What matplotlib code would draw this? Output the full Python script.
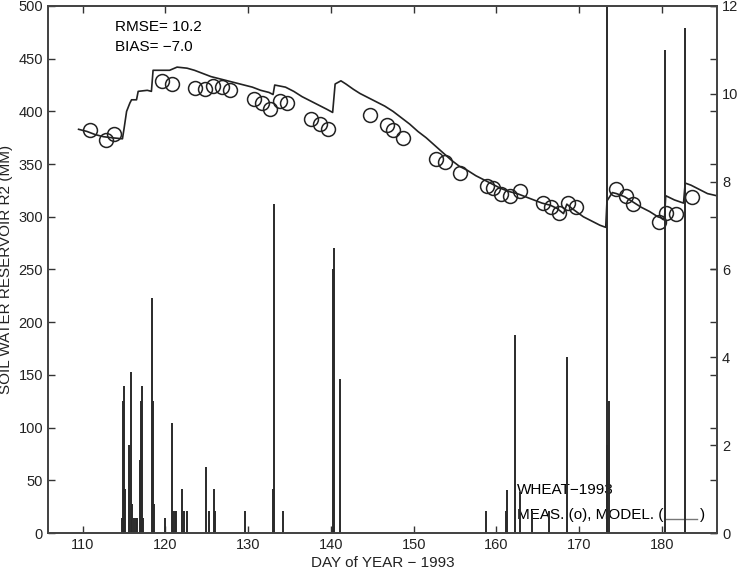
import matplotlib
matplotlib.use('Agg')
import matplotlib.pyplot as plt

plt.rcParams['font.family'] = ['Liberation Sans', 'DejaVu Sans']

# measured soil water (circles)
meas_day = [110.9, 112.8, 113.8, 119.6, 120.8, 123.6, 124.8, 125.7, 126.8, 127.8,
            130.7, 131.7, 132.6, 133.8, 134.7, 137.6, 138.7, 139.6, 144.7, 146.8,
            147.5, 148.7, 152.7, 153.8, 155.6, 158.8, 159.6, 160.5, 161.6, 162.8,
            165.6, 166.6, 167.5, 168.6, 169.6, 174.4, 175.6, 176.5, 179.6, 180.5,
            181.7, 183.6]
meas_val = [382, 373, 379, 429, 426, 422, 421, 424, 423, 420,
            412, 408, 402, 410, 408, 393, 388, 383, 397, 387,
            382, 375, 355, 352, 342, 329, 327, 322, 320, 324,
            313, 309, 304, 313, 309, 326, 320, 312, 295, 304,
            303, 319]

# model soil water (line)
mod_day = [109.5, 110.5, 111.5, 112.5, 113.5, 114.8, 115.0, 115.3, 115.7, 115.9,
           116.5, 116.7, 117.8, 118.3, 118.5, 120.5, 121.4, 122.6, 123.5, 124.5,
           125.5, 126.5, 127.5, 128.5, 129.5, 130.5, 131.5, 132.5, 133.0, 133.2,
           134.5, 135.5, 136.5, 137.5, 138.5, 139.5, 140.2, 140.5, 141.2, 141.8,
           142.7, 143.5, 144.5, 145.5, 146.5, 147.5, 148.5, 149.5, 150.5, 151.5,
           152.5, 153.5, 154.5, 155.5, 156.5, 157.5, 158.5, 159.5, 160.5, 161.5,
           162.5, 163.5, 164.5, 165.5, 166.5, 167.3, 168.1, 168.5, 169.1, 170.5,
           171.5, 172.5, 173.2, 173.35, 174.0, 174.5, 175.5, 176.5, 177.5, 178.5,
           179.5, 180.3, 180.45, 181.5, 182.6, 182.8, 183.5, 184.5, 185.5, 186.6]
mod_val = [383, 381, 378, 376, 375, 374, 384, 400, 408, 411,
           411, 419, 420, 419, 439, 439, 442, 441, 439, 436,
           433, 431, 429, 427, 425, 423, 420, 418, 416, 425,
           423, 419, 414, 410, 406, 402, 399, 426, 429, 426,
           421, 417, 413, 409, 405, 400, 394, 388, 381, 375,
           368, 361, 354, 348, 344, 339, 335, 331, 327, 324,
           322, 319, 316, 313, 311, 308, 303, 312, 308, 300,
           296, 292, 290, 315, 323, 322, 319, 314, 309, 305,
           300, 298, 320, 316, 313, 332, 330, 326, 322, 320]

# rain / irrigation (right axis)
rain_day = [114.7, 114.9, 115.0, 115.1, 115.6, 115.8, 115.9, 116.2, 116.4, 116.6,
            116.9, 117.1, 117.2, 117.3, 118.4, 118.5, 118.6, 119.9, 120.75, 120.9,
            121.1, 121.3, 122.0, 122.2, 122.6, 124.9, 125.2, 125.9, 126.0, 129.6,
            133.0, 133.15, 134.2, 140.3, 140.4, 141.1, 158.7, 161.2, 161.3, 162.2,
            162.8, 164.3, 166.4, 168.5, 173.3, 173.4, 173.6, 180.4, 182.8]
rain_val = [0.34, 3.0, 3.34, 1.0, 2.0, 3.67, 0.67, 0.34, 0.34, 0.34,
            1.67, 3.0, 3.34, 0.34, 5.35, 3.0, 0.65, 0.34, 2.5, 0.51,
            0.51, 0.51, 1.0, 0.51, 0.51, 1.5, 0.51, 1.0, 0.51, 0.51,
            1.0, 7.5, 0.49, 6.0, 6.5, 3.5, 0.49, 0.49, 0.99, 4.5,
            0.94, 0.49, 0.49, 4.0, 14.0, 2.0, 3.0, 11.0, 11.5]

fig = plt.figure(figsize=(7.37, 5.70), dpi=100)
ax1 = fig.add_axes([0.0651, 0.0649, 0.9078, 0.9246])
ax2 = ax1.twinx()

ax1.plot(mod_day, mod_val, color='#222222', lw=1.2, zorder=3)
ax1.plot(meas_day, meas_val, 'o', mfc='none', mec='#222222', ms=10, mew=1.1, zorder=4)
ax2.vlines(rain_day, 0, rain_val, color='#2a2a2a', lw=1.4)

ax1.set_xlim(105.8, 186.65)
ax1.set_ylim(0, 500)
ax2.set_ylim(0, 12)
ax1.set_xticks(range(110, 181, 10))
ax1.set_yticks(range(0, 501, 50))
ax2.set_yticks(range(0, 13, 2))

ax1.tick_params(direction='in', length=5, width=1, top=True, right=True,
                labelsize=10.5, colors='#333333', labelcolor='#222222')
ax2.tick_params(direction='in', length=5, width=1, labelsize=10.5,
                colors='#333333', labelcolor='#222222')
for ax in (ax1, ax2):
    for s in ax.spines.values():
        s.set_color('#444444')
        s.set_linewidth(1.3)

ax1.set_xlabel('DAY of YEAR \u2212 1993', fontsize=11, color='#222222', labelpad=3)
ax1.set_ylabel('SOIL WATER RESERVOIR R2 (MM)', fontsize=11, color='#222222', labelpad=4)

ax1.text(0.100, 0.960, 'RMSE= 10.2', transform=ax1.transAxes, fontsize=11, va='center', zorder=1)
ax1.text(0.100, 0.922, 'BIAS= \u22127.0', transform=ax1.transAxes, fontsize=11, va='center', zorder=1)
ax1.text(0.701, 0.082, 'WHEAT\u22121993', transform=ax1.transAxes, fontsize=11, va='center', zorder=1)
ax1.text(0.701, 0.034, 'MEAS. (o), MODEL. (', transform=ax1.transAxes, fontsize=11, va='center', zorder=1)
ax1.text(0.975, 0.034, ')', transform=ax1.transAxes, fontsize=11, va='center', zorder=1)
ax1.plot([0.922, 0.970], [0.027, 0.027], transform=ax1.transAxes, color='#777777', lw=1)

fig.savefig('out.png', dpi=100)
